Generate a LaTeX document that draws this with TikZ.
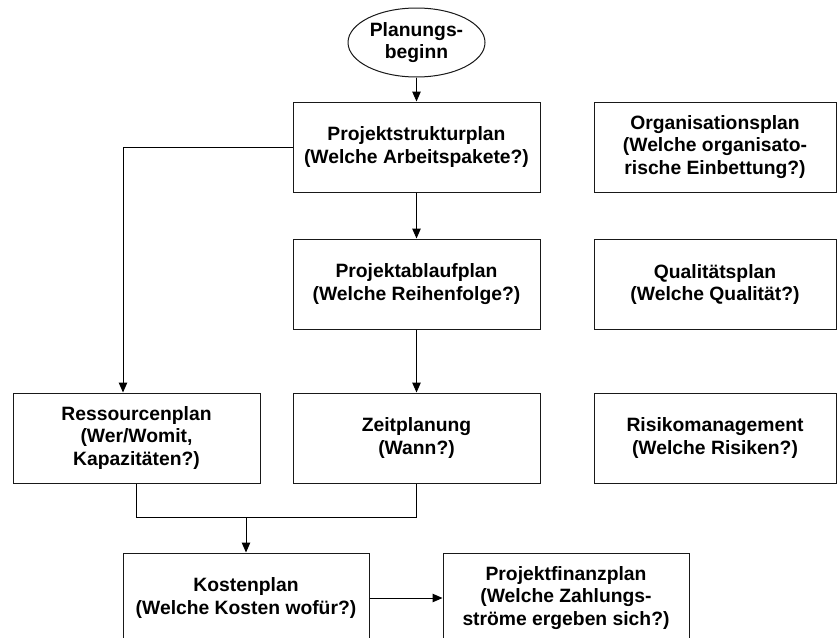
\documentclass[tikz,border=0pt]{standalone}
\usepackage{fontspec}
\setmainfont{Liberation Sans}
\usetikzlibrary{arrows.meta,shapes.geometric}
\tikzset{
  box/.style={draw=black!90, line width=1pt, rectangle, minimum width=247pt, minimum height=90pt, inner sep=0pt, align=center,
    font=\fontsize{19.3}{22.4}\selectfont\bfseries},
  startnode/.style={draw=black!90, line width=1pt, ellipse, minimum width=137pt, minimum height=69pt, inner sep=0pt, align=center,
    font=\fontsize{19.3}{22.4}\selectfont\bfseries},
  conn/.style={draw=black, line width=1pt},
  arr/.style={conn, -{Triangle[length=10pt,width=8.5pt]}}
}
\begin{document}
\begin{tikzpicture}[x=1pt,y=-1pt]
\clip (0,0) rectangle (837,637);
\fill[white] (0,0) rectangle (837,637);
\node[startnode] (start) at (416.5,42.5) {Planungs-\\beginn};
\node[box] (psp) at (416.5,147) {Projektstrukturplan\\(Welche Arbeitspakete?)};
\node[box, minimum width=242pt] (org) at (715,147) {Organisationsplan\\(Welche organisato-\\rische Einbettung?)};
\node[box] (pap) at (416.5,284) {Projektablaufplan\\(Welche Reihenfolge?)};
\node[box, minimum width=242pt] (qual) at (715,284.5) {Qualitätsplan\\(Welche Qualität?)};
\node[box] (res) at (136.5,438) {Ressourcenplan\\(Wer/Womit,\\Kapazitäten?)};
\node[box] (zeit) at (416.5,438) {Zeitplanung\\(Wann?)};
\node[box, minimum width=242pt] (risk) at (715,438) {Risikomanagement\\(Welche Risiken?)};
\node[box, minimum width=246pt] (kost) at (246,598) {Kostenplan\\(Welche Kosten wofür?)};
\node[box, minimum width=246pt] (fin) at (566,598) {Projektfinanzplan\\(Welche Zahlungs-\\ströme ergeben sich?)};
\coordinate (c1) at (123,147);
\coordinate (j) at (246,517);
\draw[arr] (start.south) -- (psp.north);
\draw[arr] (psp.south) -- (pap.north);
\draw[arr] (pap.south) -- (zeit.north);
\draw[arr] (psp.west) -- (c1) -- (c1 |- res.north);
\draw[conn] (res.south) -- (res.south |- j) -- (zeit.south |- j) -- (zeit.south);
\draw[arr] (j) -- (kost.north);
\draw[arr] (kost.east) -- (fin.west);
\end{tikzpicture}
\end{document}
